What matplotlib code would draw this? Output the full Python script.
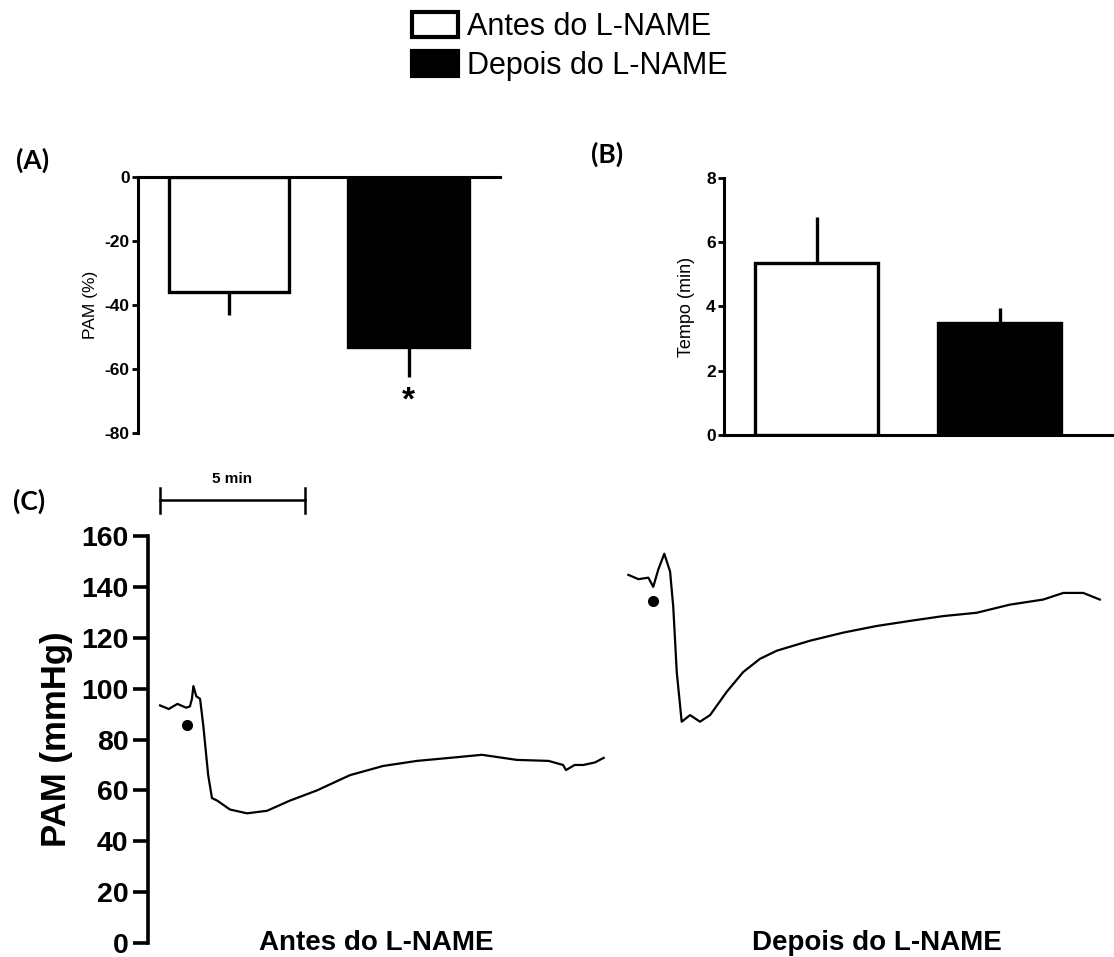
import matplotlib
matplotlib.use("Agg")
import matplotlib.pyplot as plt
from matplotlib.patches import Patch

# --- dados ---
grupos = ["Antes do L-NAME", "Depois do L-NAME"]
cores = ["white", "black"]

# (A) variacao da PAM (%)
pam_pct = [-36, -53]
pam_pct_ep = [7, 9.5]

# (B) tempo ate a recuperacao (min)
tempo = [5.35, 3.5]
tempo_ep = [1.45, 0.45]

# (C) registros de PAM (mmHg) - tempo em minutos
t_antes = [0.0, 0.3, 0.6, 0.9, 1.03, 1.1, 1.15, 1.25, 1.38, 1.49, 1.66, 1.79, 1.97,
           2.41, 3.0, 3.69, 4.48, 5.41, 6.55, 7.69, 8.86, 10.0, 11.1, 12.3, 13.4,
           13.9, 14.0, 14.3, 14.6, 15.0, 15.3]
pam_antes = [93.4, 92, 94, 92.5, 93, 96, 101, 97, 96, 85.6, 66, 57, 56,
             52.5, 51, 52, 56, 60, 66, 69.6, 71.6, 72.8, 74, 72, 71.6,
             70, 68, 70, 70, 71, 72.8]

t_depois = [16.15, 16.5, 16.84, 17.01, 17.18, 17.39, 17.59, 17.7, 17.82, 17.99,
            18.28, 18.62, 18.97, 19.54, 20.11, 20.69, 21.27, 22.41, 23.56, 24.71,
            25.86, 27.01, 28.16, 29.31, 30.46, 31.15, 31.84, 32.41]
pam_depois = [144.7, 143, 143.6, 140, 146.7, 153, 146, 132, 106.5, 87,
              89.6, 87, 89.6, 98.7, 106.5, 111.7, 114.9, 118.8, 122, 124.6,
              126.6, 128.5, 129.8, 133, 135, 137.6, 137.6, 135]

# injecao (pontos)
t_inj = [0.93, 17.01]
pam_inj = [85.6, 134.4]

plt.rcParams["font.family"] = ["Liberation Sans", "DejaVu Sans"]
plt.rcParams["axes.unicode_minus"] = False

fig = plt.figure(figsize=(11.14, 9.57), dpi=100)

# ---------- (A) ----------
axA = fig.add_axes([0.1239, 0.5475, 0.325, 0.2675])
axA.bar([0, 1], pam_pct, width=0.67, color=cores, edgecolor="black", linewidth=2.4,
        zorder=2)
for i in range(2):
    axA.plot([i, i], [pam_pct[i], pam_pct[i] - pam_pct_ep[i]], color="black",
             lw=2.4, solid_capstyle="butt", zorder=1)
axA.set_xlim(-0.507, 1.51)
axA.set_ylim(-80, 0)
axA.set_yticks([0, -20, -40, -60, -80])
axA.set_xticks([])
for s in ["bottom", "right"]:
    axA.spines[s].set_visible(False)
for s in ["left", "top"]:
    axA.spines[s].set_linewidth(2.2)
axA.tick_params(axis="y", length=4.5, width=2, pad=1.5, labelsize=12.5)
for lb in axA.get_yticklabels():
    lb.set_fontweight("bold")
axA.set_ylabel("PAM (%)", fontsize=12.5, labelpad=5)
axA.text(1, -70, "*", ha="center", va="center", fontsize=24, fontweight="bold")

# ---------- (B) ----------
axB = fig.add_axes([0.65, 0.5455, 0.348, 0.2685])
axB.bar([0, 1], tempo, width=0.67, color=cores, edgecolor="black", linewidth=2.4,
        zorder=2)
for i in range(2):
    axB.plot([i, i], [tempo[i], tempo[i] + tempo_ep[i]], color="black",
             lw=2.4, solid_capstyle="butt", zorder=1)
axB.set_xlim(-0.504, 1.61)
axB.set_ylim(0, 8)
axB.set_yticks([0, 2, 4, 6, 8])
axB.set_xticks([])
for s in ["top", "right"]:
    axB.spines[s].set_visible(False)
for s in ["left", "bottom"]:
    axB.spines[s].set_linewidth(2.2)
axB.tick_params(axis="y", length=4.5, width=2, pad=1.5, labelsize=12.5)
for lb in axB.get_yticklabels():
    lb.set_fontweight("bold")
axB.set_ylabel("Tempo (min)", fontsize=13, labelpad=8)

# ---------- (C) ----------
axC = fig.add_axes([0.1329, 0.0145, 0.8671, 0.4255])
axC.plot(t_antes, pam_antes, color="black", lw=1.6)
axC.plot(t_depois, pam_depois, color="black", lw=1.6)
axC.plot(t_inj, pam_inj, "o", color="black", markersize=7)
axC.set_xlim(-0.414, 32.9)
axC.set_ylim(0, 160)
axC.set_yticks(range(0, 161, 20))
axC.set_xticks([])
for s in ["top", "right", "bottom"]:
    axC.spines[s].set_visible(False)
axC.spines["left"].set_linewidth(2.6)
axC.tick_params(axis="y", length=11, width=2.6, pad=3, labelsize=20.5)
for lb in axC.get_yticklabels():
    lb.set_fontweight("bold")
axC.set_ylabel("PAM (mmHg)", fontsize=25, fontweight="bold", labelpad=6)

# barra de escala 5 min
axC.plot([0, 5], [174, 174], color="black", lw=1.8, clip_on=False)
axC.plot([0, 0], [169, 179], color="black", lw=1.8, clip_on=False)
axC.plot([5, 5], [169, 179], color="black", lw=1.8, clip_on=False)
axC.text(2.5, 182.5, "5 min", ha="center", va="center", fontsize=11, fontweight="bold")

axC.text(7.45, 0, grupos[0], ha="center", va="center", fontsize=20, fontweight="bold")
axC.text(24.72, 0, grupos[1], ha="center", va="center", fontsize=20, fontweight="bold")

# rotulos dos paineis
for txt, x, y in [("(A)", 33, 160), ("(B)", 607, 154), ("(C)", 29, 501)]:
    fig.text(x / 1114, 1 - y / 957, txt, ha="center", va="center", fontsize=19,
             fontweight="bold", family=["Lato", "DejaVu Sans"])

# legenda
handles = [Patch(facecolor=c, edgecolor="black", linewidth=3) for c in cores]
fig.legend(handles, grupos, loc="upper left", bbox_to_anchor=(0.3698, 0.9878),
           frameon=False, fontsize=22, handlelength=1.5, handleheight=0.9,
           handletextpad=0.3, labelspacing=0.3, borderpad=0, borderaxespad=0)

fig.savefig("out.png", dpi=100)
